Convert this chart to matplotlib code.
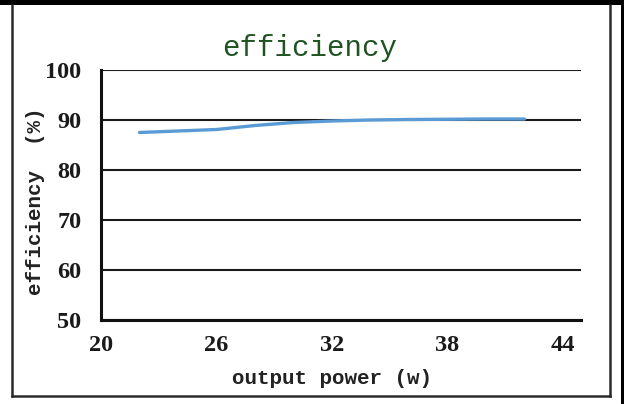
import matplotlib
matplotlib.use("Agg")
import matplotlib.pyplot as plt
from matplotlib.patches import Rectangle
from matplotlib.lines import Line2D

# data
power_w = [22, 24, 26, 28, 30, 32, 34, 36, 38, 40, 42]
efficiency_pct = [87.5, 87.8, 88.1, 88.9, 89.5, 89.8, 90.0, 90.1, 90.15, 90.2, 90.2]
x_ticks = [20, 26, 32, 38, 44]
y_ticks = [50, 60, 70, 80, 90, 100]
title = "efficiency"
x_label = "output power (w)"
y_label = "efficiency  (%)"

W, H = 624, 404
fig = plt.figure(figsize=(W / 100, H / 100), dpi=100)
fig.patch.set_facecolor("white")

def fx(px):
    return px / W

def fy(py):
    return 1 - py / H

ax = fig.add_axes([fx(101), fy(320), fx(581) - fx(101), fy(70) - fy(320)])
ax.plot(power_w, efficiency_pct, color="#5B9BD5", lw=2.4, solid_capstyle="round", zorder=3)

ax.set_xlim(20, 20 + 480 / 19.25)
ax.set_ylim(50, 100)
ax.set_xticks(x_ticks)
ax.set_yticks(y_ticks)
ax.yaxis.grid(True, color="#1a1a1a", lw=1.5)
ax.set_axisbelow(True)
for s in ["top", "right"]:
    ax.spines[s].set_visible(False)
for s in ["left", "bottom"]:
    ax.spines[s].set_color("#111111")
    ax.spines[s].set_linewidth(2.2)
ax.tick_params(axis="both", length=0)
ax.tick_params(axis="y", pad=14)
ax.tick_params(axis="x", pad=11)
for lab in ax.get_xticklabels() + ax.get_yticklabels():
    lab.set_fontfamily("Liberation Serif")
    lab.set_fontweight("bold")
    lab.set_fontsize(17.5)
    lab.set_color("#1a1a1a")

fig.text(fx(310), fy(48), title, family="Liberation Mono", size=21,
         color="#1F5321", ha="center", va="center")
fig.text(fx(332), fy(379), x_label, family="Liberation Mono", size=15,
         weight="bold", color="#222222", ha="center", va="center")
fig.text(fx(36), fy(201), y_label, family="Liberation Mono", size=15,
         weight="bold", color="#222222", ha="center", va="center", rotation=90)

# frame decorations
fig.add_artist(Rectangle((0, fy(5)), 1, fy(0) - fy(5), transform=fig.transFigure,
                         facecolor="black", edgecolor="none"))
fig.add_artist(Rectangle((fx(621), 0), fx(624) - fx(621), 1, transform=fig.transFigure,
                         facecolor="black", edgecolor="none"))
border = dict(color="#2a2a2a", lw=1.8, transform=fig.transFigure)
fig.add_artist(Line2D([fx(12.3), fx(12.3)], [fy(396), fy(5)], **border))
fig.add_artist(Line2D([fx(609.5), fx(609.5)], [fy(396), fy(5)], **border))
fig.add_artist(Line2D([fx(12.3), fx(609.5)], [fy(395.8), fy(395.8)], **border))

fig.savefig("out.png", dpi=100)
